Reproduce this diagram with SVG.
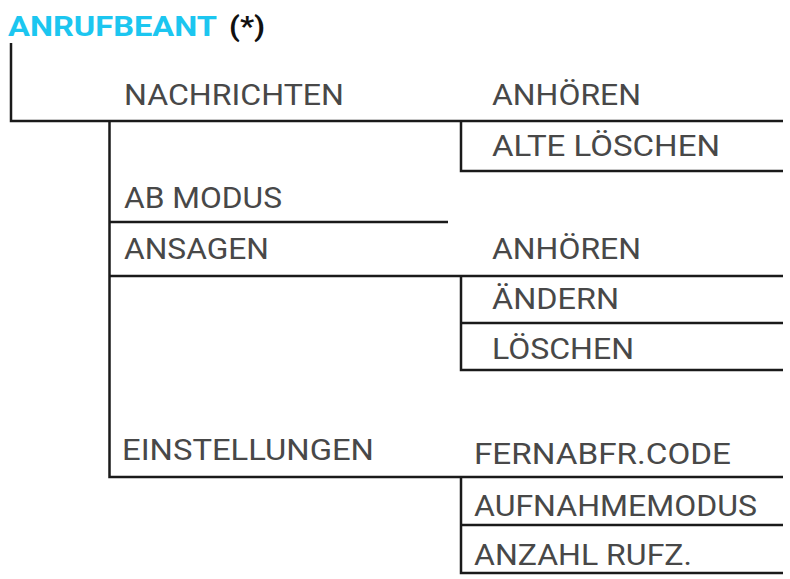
<svg xmlns="http://www.w3.org/2000/svg" width="790" height="579" viewBox="0 0 790 579">
<style>
.t{font-family:Roboto,"DejaVu Sans Condensed",sans-serif;font-size:30px;fill:#484848}
.h{font-family:Roboto,"DejaVu Sans Condensed",sans-serif;font-size:27px;font-weight:bold}
.l{stroke:#1a1a1a;stroke-width:2.5;fill:none}
</style>
<rect width="790" height="579" fill="#fff"/>
<g id="connectors">
<path class="l" d="M11,43 V121 H783"/>
<path class="l" d="M109.5,121 V477 H783"/>
<path class="l" d="M109.5,222 H448"/>
<path class="l" d="M109.5,276 H783"/>
<path class="l" d="M461,121 V171 H783"/>
<path class="l" d="M461,276 V370 H783"/>
<path class="l" d="M461,323 H783"/>
<path class="l" d="M461,477 V573 H783"/>
<path class="l" d="M461,525 H783"/>
</g>
<g id="title">
<text class="h" x="8" y="36" fill="#1cc6f0" textLength="209" lengthAdjust="spacingAndGlyphs">ANRUFBEANT</text>
<text class="h" x="229" y="36" fill="#111" textLength="36" lengthAdjust="spacingAndGlyphs">(*)</text>
</g>
<g id="nachrichten"><text class="t" x="124" y="104.5" textLength="220" lengthAdjust="spacingAndGlyphs">NACHRICHTEN</text></g>
<g id="nachrichten-anhoeren"><text class="t" x="492" y="105" textLength="149" lengthAdjust="spacingAndGlyphs">ANHÖREN</text></g>
<g id="alte-loeschen"><text class="t" x="492" y="156" textLength="228" lengthAdjust="spacingAndGlyphs">ALTE LÖSCHEN</text></g>
<g id="ab-modus"><text class="t" x="124" y="208" textLength="158" lengthAdjust="spacingAndGlyphs">AB MODUS</text></g>
<g id="ansagen"><text class="t" x="124" y="259" textLength="145" lengthAdjust="spacingAndGlyphs">ANSAGEN</text></g>
<g id="ansagen-anhoeren"><text class="t" x="492" y="259" textLength="149" lengthAdjust="spacingAndGlyphs">ANHÖREN</text></g>
<g id="aendern"><text class="t" x="492" y="309" textLength="127" lengthAdjust="spacingAndGlyphs">ÄNDERN</text></g>
<g id="loeschen"><text class="t" x="492" y="359" textLength="142" lengthAdjust="spacingAndGlyphs">LÖSCHEN</text></g>
<g id="einstellungen"><text class="t" x="122" y="460" textLength="252" lengthAdjust="spacingAndGlyphs">EINSTELLUNGEN</text></g>
<g id="fernabfr"><text class="t" x="474" y="464" textLength="257" lengthAdjust="spacingAndGlyphs">FERNABFR.CODE</text></g>
<g id="aufnahmemodus"><text class="t" x="474" y="516" textLength="283" lengthAdjust="spacingAndGlyphs">AUFNAHMEMODUS</text></g>
<g id="anzahl"><text class="t" x="474" y="565" textLength="218" lengthAdjust="spacingAndGlyphs">ANZAHL RUFZ.</text></g>
</svg>
